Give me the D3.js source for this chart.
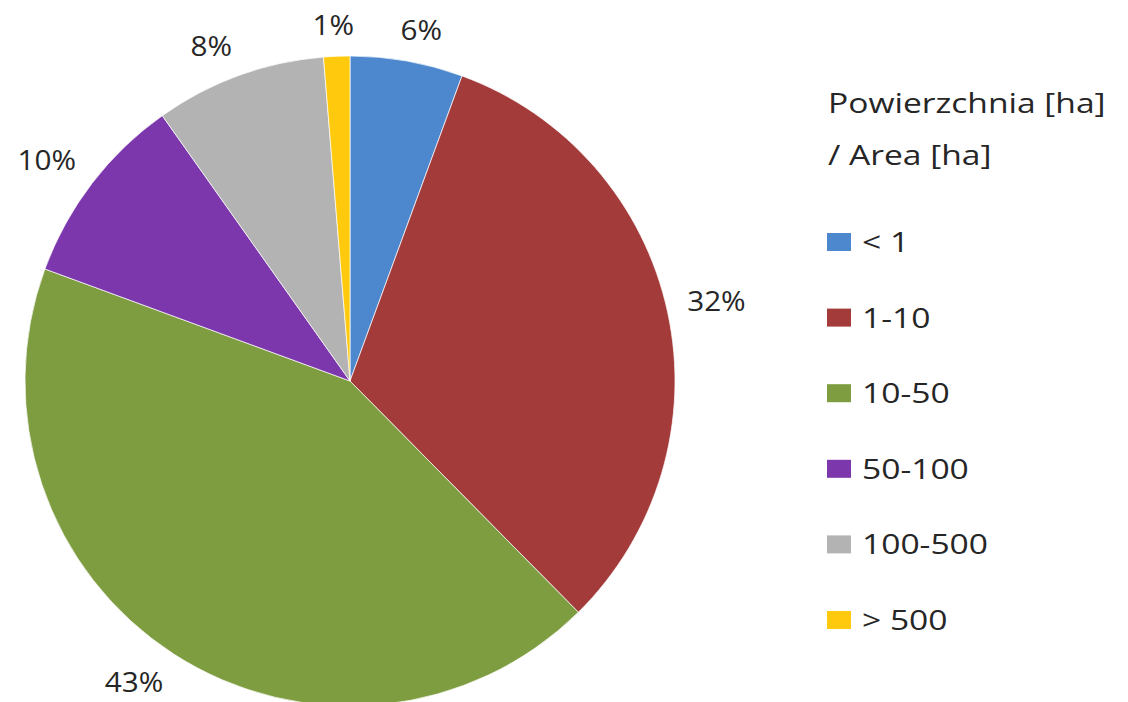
<!DOCTYPE html>
<html>
<head>
<meta charset="utf-8">
<script src="https://cdn.jsdelivr.net/npm/d3@7"></script>
<style>
  body { margin: 0; background: #fff; }
  svg text { font-family: "Open Sans", "Noto Sans", sans-serif; fill: #262626; }
</style>
</head>
<body>
<div id="container"></div>
<script>
// data
const categories = ["< 1", "1-10", "10-50", "50-100", "100-500", "> 500"]
const shares = [5.6, 32.0, 43.0, 9.6, 8.5, 1.3]
const labels = ["6%", "32%", "43%", "10%", "8%", "1%"]
const colors = ["#4d88cf", "#a23b3a", "#7e9c40", "#7b37ab", "#b3b3b3", "#ffc90e"]
const legendTitle = ["Powierzchnia [ha]", "/ Area [ha]"]

const width = 1128, height = 702
const cx = 350, cy = 381, radius = 325
const stretch = 1.2   // text in the picture is a bit wide

const svg = d3.select("#container")
    .append("svg")
        .attr("width", width)
        .attr("height", height)

const data = categories.map((c, i) => ({cat: c, value: shares[i], label: labels[i], color: colors[i]}))

const pie = d3.pie().sort(null).value(d => d.value)
const arc = d3.arc().innerRadius(0).outerRadius(radius)
const arcs = pie(data)

const g = svg.append("g").attr("transform", `translate(${cx}, ${cy})`)

g.selectAll("path")
    .data(arcs)
    .join("path")
    .attr("d", arc)
    .attr("fill", d => d.data.color)
    .attr("stroke", "#fff")
    .attr("stroke-width", 0.7)

// percentage labels, outside end: box pushed off the rim point
const labFs = 27, labScale = 1.1, gap = 20
const clamp = v => Math.max(-1, Math.min(1, v))
const lab = g.selectAll("text.lab")
    .data(arcs)
    .join("text")
    .attr("class", "lab")
    .attr("text-anchor", "middle")
    .style("font-size", labFs + "px")
    .text(d => d.data.label)

lab.each(function(d){
    const bb = this.getBBox()
    const a = (d.startAngle + d.endAngle) / 2
    const ux = Math.sin(a), uy = -Math.cos(a)
    const hw = bb.width * labScale / 2, hh = labFs * 0.4
    const x = (radius + gap) * ux + hw * clamp(ux * 3)
    const y = (radius + gap) * uy + hh * clamp(uy * 3)
    // y is the box centre; shift to baseline
    d3.select(this).attr("transform", `translate(${x}, ${y + labFs * 0.357}) scale(${labScale}, 1)`)
})

// legend
const lg = svg.append("g").attr("transform", "translate(828, 0)")
const legFs = 28

lg.selectAll("text.title")
    .data(legendTitle)
    .join("text")
    .attr("class", "title")
    .attr("transform", (d, i) => `translate(0, ${113 + i * 52}) scale(${stretch}, 1)`)
    .style("font-size", legFs + "px")
    .text(d => d)

const item = lg.selectAll("g.item")
    .data(data)
    .join("g")
    .attr("class", "item")
    .attr("transform", (d, i) => `translate(0, ${252 + i * 75.6})`)

item.append("rect")
    .attr("x", -1)
    .attr("y", -19)
    .attr("width", 24)
    .attr("height", 18)
    .attr("fill", d => d.color)

item.append("text")
    .attr("transform", `translate(34, 0) scale(${stretch}, 1)`)
    .style("font-size", legFs + "px")
    .text(d => d.cat)
</script>
</body>
</html>
